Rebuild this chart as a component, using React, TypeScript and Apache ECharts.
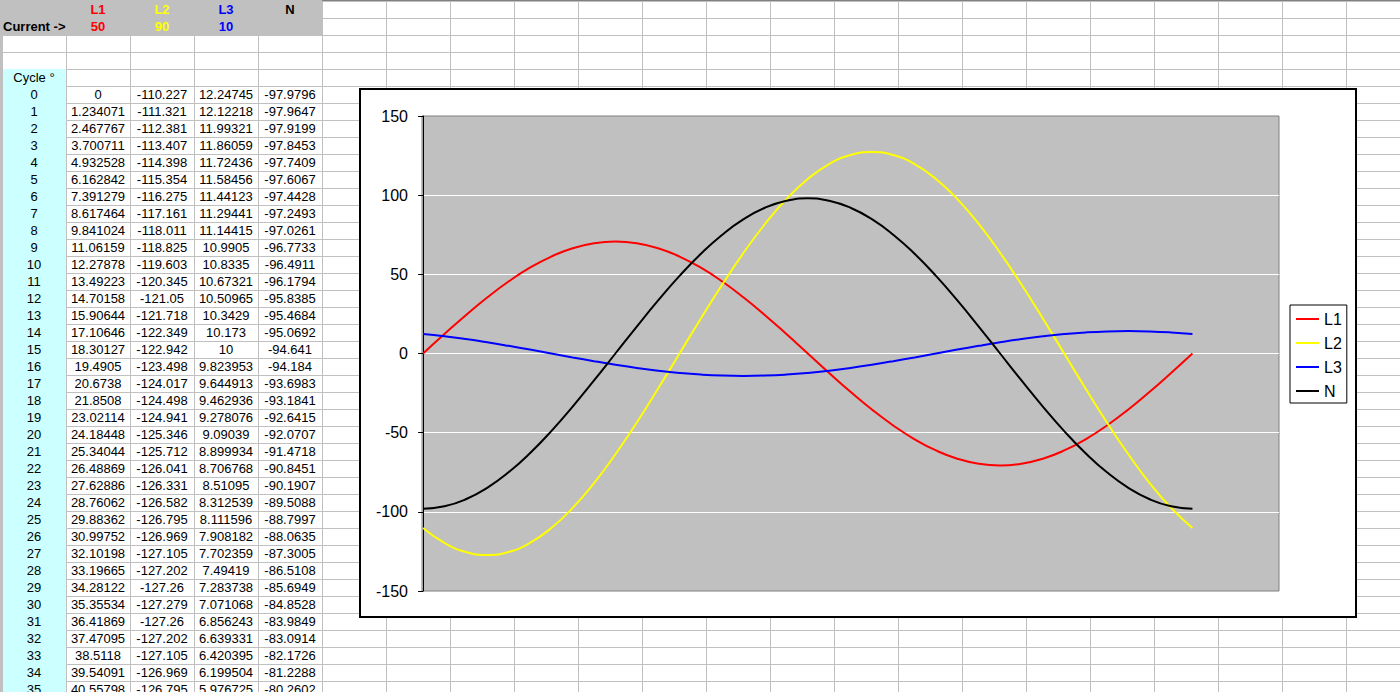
import React, { useEffect, useRef } from "react";
import * as echarts from "echarts";

// ---------- spreadsheet data ----------
const headerNames = ["L1", "L2", "L3", "N"];
const headerColors = ["#ff0000", "#ffff00", "#0000ff", "#000000"];
const currentValues = ["50", "90", "10"];
const cycleIndex = [
  "0", "1", "2", "3", "4", "5", "6", "7", "8", "9", "10", "11", "12", "13", "14", "15", "16", "17",
  "18", "19", "20", "21", "22", "23", "24", "25", "26", "27", "28", "29", "30", "31", "32", "33", "34", "35",
];
const tableL1 = [
  "0", "1.234071", "2.467767", "3.700711", "4.932528", "6.162842", "7.391279", "8.617464", "9.841024",
  "11.06159", "12.27878", "13.49223", "14.70158", "15.90644", "17.10646", "18.30127", "19.4905", "20.6738",
  "21.8508", "23.02114", "24.18448", "25.34044", "26.48869", "27.62886", "28.76062", "29.88362", "30.99752",
  "32.10198", "33.19665", "34.28122", "35.35534", "36.41869", "37.47095", "38.5118", "39.54091", "40.55798",
];
const tableL2 = [
  "-110.227", "-111.321", "-112.381", "-113.407", "-114.398", "-115.354", "-116.275", "-117.161", "-118.011",
  "-118.825", "-119.603", "-120.345", "-121.05", "-121.718", "-122.349", "-122.942", "-123.498", "-124.017",
  "-124.498", "-124.941", "-125.346", "-125.712", "-126.041", "-126.331", "-126.582", "-126.795", "-126.969",
  "-127.105", "-127.202", "-127.26", "-127.279", "-127.26", "-127.202", "-127.105", "-126.969", "-126.795",
];
const tableL3 = [
  "12.24745", "12.12218", "11.99321", "11.86059", "11.72436", "11.58456", "11.44123", "11.29441", "11.14415",
  "10.9905", "10.8335", "10.67321", "10.50965", "10.3429", "10.173", "10", "9.823953", "9.644913",
  "9.462936", "9.278076", "9.09039", "8.899934", "8.706768", "8.51095", "8.312539", "8.111596", "7.908182",
  "7.702359", "7.49419", "7.283738", "7.071068", "6.856243", "6.639331", "6.420395", "6.199504", "5.976725",
];
const tableN = [
  "-97.9796", "-97.9647", "-97.9199", "-97.8453", "-97.7409", "-97.6067", "-97.4428", "-97.2493", "-97.0261",
  "-96.7733", "-96.4911", "-96.1794", "-95.8385", "-95.4684", "-95.0692", "-94.641", "-94.184", "-93.6983",
  "-93.1841", "-92.6415", "-92.0707", "-91.4718", "-90.8451", "-90.1907", "-89.5088", "-88.7997", "-88.0635",
  "-87.3005", "-86.5108", "-85.6949", "-84.8528", "-83.9849", "-83.0914", "-82.1726", "-81.2288", "-80.2602",
];

// ---------- chart data (read every 10 degrees) ----------
const chartDegrees = [
  0, 10, 20, 30, 40, 50, 60, 70, 80, 90, 100, 110, 120, 130, 140, 150, 160, 170, 180,
  190, 200, 210, 220, 230, 240, 250, 260, 270, 280, 290, 300, 310, 320, 330, 340, 350, 360,
];
const chartL1 = [
  0, 12.28, 24.18, 35.36, 45.45, 54.17, 61.24, 66.45, 69.64, 70.71, 69.64, 66.45, 61.24, 54.17, 45.45, 35.36, 24.18, 12.28, 0,
  -12.28, -24.18, -35.36, -45.45, -54.17, -61.24, -66.45, -69.64, -70.71, -69.64, -66.45, -61.24, -54.17, -45.45, -35.36, -24.18, -12.28, 0,
];
const chartL2 = [
  -110.23, -119.6, -125.35, -127.28, -125.35, -119.6, -110.23, -97.5, -81.81, -63.64, -43.53, -22.1, 0, 22.1, 43.53, 63.64, 81.81, 97.5, 110.23,
  119.6, 125.35, 127.28, 125.35, 119.6, 110.23, 97.5, 81.81, 63.64, 43.53, 22.1, 0, -22.1, -43.53, -63.64, -81.81, -97.5, -110.23,
];
const chartL3 = [
  12.25, 10.83, 9.09, 7.07, 4.84, 2.46, 0, -2.46, -4.84, -7.07, -9.09, -10.83, -12.25, -13.29, -13.93, -14.14, -13.93, -13.29, -12.25,
  -10.83, -9.09, -7.07, -4.84, -2.46, 0, 2.46, 4.84, 7.07, 9.09, 10.83, 12.25, 13.29, 13.93, 14.14, 13.93, 13.29, 12.25,
];
const chartN = [
  -97.98, -96.49, -92.07, -84.85, -75.06, -62.98, -48.99, -33.51, -17.01, 0, 17.01, 33.51, 48.99, 62.98, 75.06, 84.85, 92.07, 96.49, 97.98,
  96.49, 92.07, 84.85, 75.06, 62.98, 48.99, 33.51, 17.01, 0, -17.01, -33.51, -48.99, -62.98, -75.06, -84.85, -92.07, -96.49, -97.98,
];
const yTicks = { min: -150, max: 150, interval: 50 };

const FONT = "'Liberation Sans', Arial, sans-serif";
const COL_LEFT = [2, 66, 130, 194, 258];
const COL_W = 64;

function Cell(props: { col: number; top: number; text: string; color?: string; bold?: boolean; align?: "left" | "center" }) {
  const { col, top, text, color = "#000", bold = false, align = "center" } = props;
  return (
    <div
      style={{
        position: "absolute",
        left: COL_LEFT[col],
        top,
        width: COL_W,
        height: 17,
        lineHeight: "18px",
        fontFamily: FONT,
        fontSize: 13,
        fontWeight: bold ? "bold" : "normal",
        color,
        textAlign: align,
        paddingLeft: align === "left" ? 1 : 0,
        boxSizing: "border-box",
        whiteSpace: "nowrap",
        overflow: "visible",
      }}
    >
      {text}
    </div>
  );
}

function Chart() {
  const ref = useRef<HTMLDivElement>(null);
  useEffect(() => {
    if (!ref.current) return;
    const chart = echarts.init(ref.current, undefined, { renderer: "svg" });
    const names = ["L1", "L2", "L3", "N"];
    const values = [chartL1, chartL2, chartL3, chartN];
    chart.setOption({
      animation: false,
      textStyle: { fontFamily: FONT },
      grid: {
        left: 63,
        top: 28,
        width: 857,
        height: 475,
        show: true,
        backgroundColor: "#c0c0c0",
        borderColor: "#808080",
        borderWidth: 1,
      },
      xAxis: {
        type: "value",
        min: -0.5,
        max: 400.5,
        axisLine: { show: false },
        axisTick: { show: false },
        axisLabel: { show: false },
        splitLine: { show: false },
      },
      yAxis: {
        type: "value",
        min: yTicks.min,
        max: yTicks.max,
        interval: yTicks.interval,
        axisLine: { show: true, lineStyle: { color: "#000", width: 1 } },
        axisTick: { show: true, length: 5, lineStyle: { color: "#000", width: 1 } },
        axisLabel: { color: "#000", fontSize: 16, margin: 14, fontFamily: FONT },
        splitLine: { show: true, showMinLine: false, showMaxLine: false, lineStyle: { color: "#ffffff", width: 1 } },
      },
      legend: {
        orient: "vertical",
        left: 931,
        top: 217,
        padding: [6, 5, 4, 6],
        itemGap: 8,
        itemWidth: 23,
        itemHeight: 2,
        icon: "rect",
        borderColor: "#000",
        borderWidth: 1,
        backgroundColor: "#fff",
        textStyle: { fontSize: 16, color: "#000", lineHeight: 16, fontFamily: FONT },
        data: names,
      },
      series: names.map((n, i) => ({
        name: n,
        type: "line",
        smooth: true,
        symbol: "none",
        showSymbol: false,
        data: chartDegrees.map((d, j) => [d, values[i][j]]),
        lineStyle: { color: headerColors[i], width: 2 },
        itemStyle: { color: headerColors[i] },
      })),
    });
    return () => chart.dispose();
  }, []);
  return (
    <>
      <div
        ref={ref}
        style={{ position: "absolute", left: 359, top: 88, width: 998, height: 530, background: "#fff" }}
      />
      <div
        style={{
          position: "absolute",
          left: 359,
          top: 88,
          width: 998,
          height: 530,
          border: "2px solid #000",
          boxSizing: "border-box",
          pointerEvents: "none",
        }}
      />
    </>
  );
}

export default function App() {
  return (
    <div
      style={{
        position: "fixed",
        left: 0,
        top: 0,
        width: 1400,
        height: 692,
        overflow: "hidden",
        background: "#fff",
        backgroundImage:
          "linear-gradient(to right, #c0c0c0 1px, transparent 1px), linear-gradient(to bottom, #c0c0c0 1px, transparent 1px)",
        backgroundSize: "64px 100%, 100% 17px",
        backgroundPosition: "2px 0, 0 1px",
      }}
    >
      <div style={{ position: "absolute", left: 0, top: 0, width: 1400, height: 1, background: "#808080" }} />
      <div style={{ position: "absolute", left: 0, top: 0, width: 3, height: 692, background: "#c0c0c0" }} />
      <div style={{ position: "absolute", left: 0, top: 0, width: 322, height: 35, background: "#c0c0c0" }} />
      <div style={{ position: "absolute", left: 3, top: 69, width: 63, height: 623, background: "#ccffff" }} />

      {headerNames.map((h, i) => (
        <Cell key={"h" + i} col={i + 1} top={1} text={h} color={headerColors[i]} bold />
      ))}
      <Cell col={0} top={18} text="Current ->" bold align="left" />
      {currentValues.map((v, i) => (
        <Cell key={"c" + i} col={i + 1} top={18} text={v} color={headerColors[i]} bold />
      ))}
      <Cell col={0} top={69} text="Cycle °" />
      {cycleIndex.map((c, k) => {
        const top = 86 + 17 * k;
        return (
          <React.Fragment key={"r" + k}>
            <Cell col={0} top={top} text={c} />
            <Cell col={1} top={top} text={tableL1[k]} />
            <Cell col={2} top={top} text={tableL2[k]} />
            <Cell col={3} top={top} text={tableL3[k]} />
            <Cell col={4} top={top} text={tableN[k]} />
          </React.Fragment>
        );
      })}
      <Chart />
    </div>
  );
}
